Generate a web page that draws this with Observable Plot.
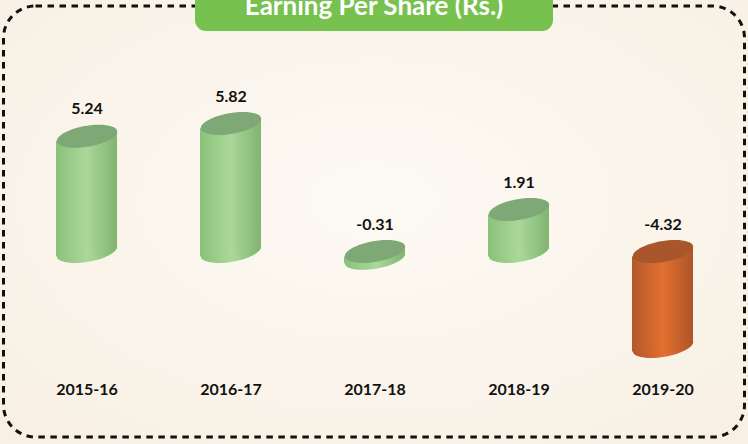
<!DOCTYPE html>
<html>
<head>
<meta charset="utf-8">
<script src="https://cdn.jsdelivr.net/npm/d3@7"></script>
<script src="https://cdn.jsdelivr.net/npm/@observablehq/plot@0.6"></script>
<style>
  html, body { margin: 0; padding: 0; background: #fbf6ee; }
  #chart { width: 748px; height: 444px; overflow: hidden; }
</style>
</head>
<body>
<div id="chart"></div>
<script>
const years = ["2015-16", "2016-17", "2017-18", "2018-19", "2019-20"];
const eps = [5.24, 5.82, -0.31, 1.91, -4.32];
const valueLabels = ["5.24", "5.82", "-0.31", "1.91", "-4.32"];
const title = "Earning Per Share (Rs.)";

const data = years.map((year, i) => ({year, value: eps[i], label: valueLabels[i]}));
const latest = years[years.length - 1];

// Custom ellipse symbol for the cylinder caps
const ellipse = {
  draw(ctx, size) {
    const rx = Math.sqrt(size / Math.PI), ry = rx * 0.34, k = 0.5523;
    ctx.moveTo(rx, 0);
    ctx.bezierCurveTo(rx, ry * k, rx * k, ry, 0, ry);
    ctx.bezierCurveTo(-rx * k, ry, -rx, ry * k, -rx, 0);
    ctx.bezierCurveTo(-rx, -ry * k, -rx * k, -ry, 0, -ry);
    ctx.bezierCurveTo(rx * k, -ry, rx, -ry * k, rx, 0);
    ctx.closePath();
  }
};

const TILT = -10;
const bodyFill = d => d.year === latest ? "url(#gradNeg)" : "url(#gradPos)";
const topFill = d => d.year === latest ? "#a9562c" : "#7fa877";

// skew each bar about its own centre so its sides meet the tilted caps
function skewBars(index, scales, values, dimensions, context, next) {
  const g = next(index, scales, values, dimensions, context);
  d3.select(g).selectAll("rect").each(function () {
    const x = +this.getAttribute("x"), w = +this.getAttribute("width");
    const cx = x + w / 2;
    this.setAttribute("transform", `translate(${cx},0) skewY(${TILT}) translate(${-cx},0)`);
  });
  return g;
}

const plot = Plot.plot({
  width: 748,
  height: 444,
  marginLeft: 53.5,
  marginRight: 53.5,
  marginTop: 97,
  marginBottom: 83,
  style: {background: "transparent", fontFamily: "Lato, 'Open Sans', sans-serif"},
  x: {type: "band", domain: years, paddingInner: 0.579, paddingOuter: 0, axis: null},
  y: {domain: [-5, 7], axis: null},
  color: {type: "identity"},
  marks: [
    // bottom cap
    Plot.dot(data, {x: "year", y: d => Math.min(0, d.value), r: 30.6, symbol: ellipse, rotate: TILT, fill: bodyFill, stroke: "none"}),
    // body
    Plot.barY(data, {x: "year", y: "value", fill: bodyFill, render: skewBars}),
    // top cap
    Plot.dot(data, {x: "year", y: d => Math.max(0, d.value), r: 30.6, symbol: ellipse, rotate: TILT, fill: topFill, stroke: "none"}),
    // value labels
    Plot.text(data, {x: "year", y: d => Math.max(0, d.value), text: "label", dy: -27, fontSize: 16, fontWeight: "bold", fill: "#111"}),
    // category labels
    Plot.text(data, {x: "year", text: "year", frameAnchor: "bottom", dy: 33, fontSize: 16, fontWeight: "bold", fill: "#111"})
  ]
});

const svg = d3.select(plot);
const defs = svg.insert("defs", ":first-child");
function grad(id, stops) {
  const g = defs.append("linearGradient").attr("id", id).attr("x1", "0").attr("x2", "1").attr("y1", "0").attr("y2", "0");
  stops.forEach(([o, c]) => g.append("stop").attr("offset", o).attr("stop-color", c));
}
grad("gradPos", [["0%", "#8bc27a"], ["50%", "#aad89a"], ["100%", "#80b46f"]]);
grad("gradNeg", [["0%", "#b3582b"], ["50%", "#e2702f"], ["100%", "#ad5429"]]);
const bgG = defs.append("radialGradient").attr("id", "bg").attr("cx", "50%").attr("cy", "45%").attr("r", "70%");
bgG.append("stop").attr("offset", "0%").attr("stop-color", "#fdfaf4");
bgG.append("stop").attr("offset", "100%").attr("stop-color", "#f8f0e4");

// background
svg.insert("rect", "defs + *").attr("x", 0).attr("y", 0).attr("width", 748).attr("height", 444).attr("fill", "url(#bg)");

// dashed rounded frame
svg.append("rect").attr("x", 3.5).attr("y", 6).attr("width", 741).attr("height", 431).attr("rx", 32).attr("ry", 32)
  .attr("fill", "none").attr("stroke", "#111").attr("stroke-width", 3).attr("stroke-dasharray", "6.5,5.5");

// title box
svg.append("rect").attr("x", 195).attr("y", -20).attr("width", 358).attr("height", 51).attr("rx", 11).attr("ry", 11)
  .attr("fill", "#77c14f");
svg.append("text").attr("x", 374).attr("y", 15).attr("text-anchor", "middle")
  .attr("font-family", "Lato, 'Open Sans', sans-serif").attr("font-weight", "bold").attr("font-size", 26)
  .attr("fill", "#ffffff").text(title);

document.getElementById("chart").appendChild(plot);
</script>
</body>
</html>
